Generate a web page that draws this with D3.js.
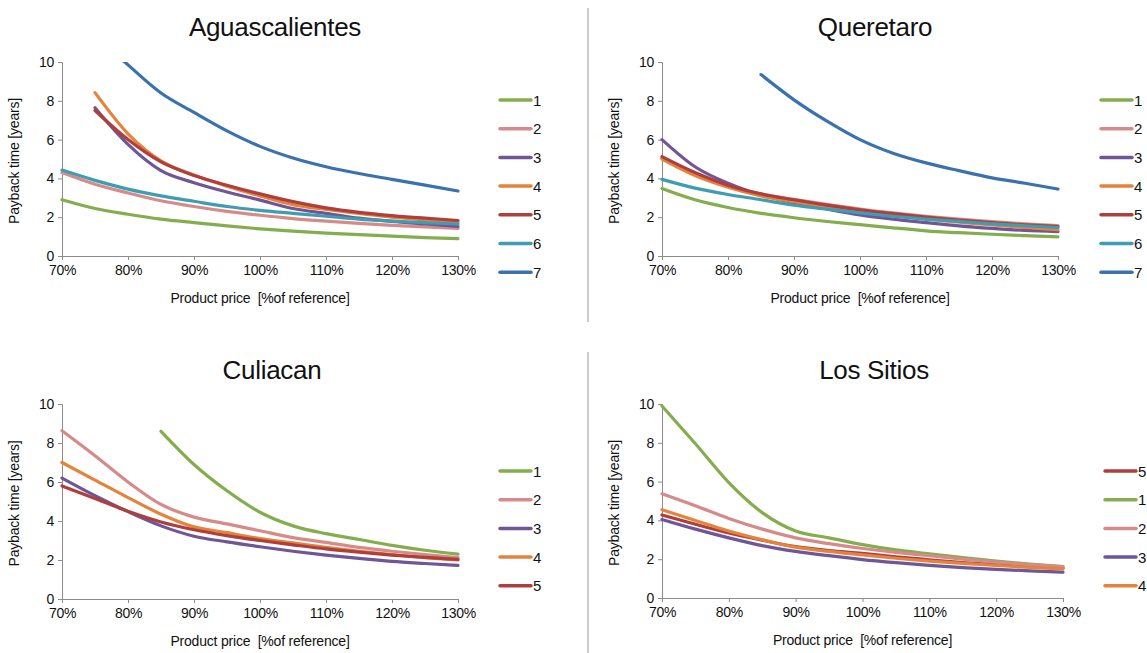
<html>
<head>
<script src="https://d3js.org/d3.v7.min.js"></script>
<style>
body { margin: 0; background: #fff; font-family: 'Liberation Sans', Arial, sans-serif; }
svg text { fill: #111; }
.title { font-size: 26px; letter-spacing: -0.3px; }
.tick text { font-size: 14px; letter-spacing: -0.3px; }
.lab { font-size: 14px; letter-spacing: -0.2px; white-space: pre; }
.leg { font-size: 15px; }
</style>
</head>
<body>
<div id="chart"></div>
<script>

// price levels [% of reference]
var prices = [70, 75, 80, 85, 90, 95, 100, 105, 110, 115, 120, 125, 130];
var yTicks = [0, 2, 4, 6, 8, 10];
var xTicks = [70, 80, 90, 100, 110, 120, 130];

// payback time [years], null = no value
var ags1 = [2.9, 2.45, 2.15, 1.9, 1.72, 1.55, 1.4, 1.28, 1.18, 1.1, 1.02, 0.95, 0.9];
var ags2 = [4.3, 3.7, 3.25, 2.85, 2.55, 2.3, 2.1, 1.93, 1.8, 1.68, 1.58, 1.5, 1.42];
var ags3 = [null, 7.64, 5.75, 4.4, 3.78, 3.3, 2.88, 2.45, 2.2, 1.95, 1.78, 1.65, 1.52];
var ags4 = [null, 8.42, 6.3, 4.9, 4.17, 3.6, 3.1, 2.65, 2.4, 2.2, 2.0, 1.87, 1.75];
var ags5 = [null, 7.5, 6.0, 4.85, 4.15, 3.65, 3.2, 2.8, 2.48, 2.25, 2.08, 1.95, 1.83];
var ags6 = [4.43, 3.9, 3.45, 3.1, 2.82, 2.55, 2.35, 2.2, 2.05, 1.9, 1.8, 1.72, 1.65];
var ags7 = [null, 11.4, 9.85, 8.4, 7.4, 6.45, 5.65, 5.05, 4.6, 4.25, 3.95, 3.65, 3.35];

var qro1 = [3.48, 2.9, 2.5, 2.2, 1.97, 1.78, 1.62, 1.45, 1.3, 1.2, 1.12, 1.05, 0.99];
var qro2 = [5.05, 4.25, 3.6, 3.2, 2.92, 2.66, 2.42, 2.22, 2.05, 1.9, 1.77, 1.66, 1.57];
var qro3 = [6.0, 4.6, 3.75, 3.15, 2.75, 2.42, 2.12, 1.9, 1.72, 1.55, 1.42, 1.32, 1.26];
var qro4 = [5.0, 4.15, 3.55, 3.1, 2.8, 2.52, 2.28, 2.08, 1.9, 1.75, 1.6, 1.47, 1.36];
var qro5 = [5.12, 4.3, 3.65, 3.2, 2.9, 2.62, 2.38, 2.18, 2.0, 1.85, 1.72, 1.6, 1.52];
var qro6 = [3.95, 3.5, 3.17, 2.9, 2.62, 2.42, 2.22, 2.05, 1.9, 1.78, 1.66, 1.56, 1.47];
var qro7 = [null, null, null, 9.35, 8.05, 6.95, 6.0, 5.3, 4.8, 4.4, 4.03, 3.75, 3.45];

var cul1 = [null, null, null, 8.6, 6.9, 5.55, 4.45, 3.75, 3.35, 3.05, 2.75, 2.5, 2.3];
var cul2 = [8.63, 7.35, 6.0, 4.85, 4.2, 3.85, 3.5, 3.15, 2.9, 2.65, 2.45, 2.28, 2.12];
var cul3 = [6.2, 5.3, 4.48, 3.75, 3.22, 2.93, 2.68, 2.45, 2.25, 2.08, 1.93, 1.82, 1.72];
var cul4 = [7.0, 6.1, 5.2, 4.35, 3.7, 3.4, 3.1, 2.88, 2.65, 2.45, 2.28, 2.12, 2.0];
var cul5 = [5.8, 5.15, 4.5, 3.95, 3.55, 3.25, 3.0, 2.78, 2.57, 2.4, 2.25, 2.13, 2.03];

var los1 = [9.9, 7.95, 5.95, 4.4, 3.45, 3.1, 2.75, 2.48, 2.28, 2.08, 1.9, 1.75, 1.62];
var los2 = [5.37, 4.75, 4.1, 3.55, 3.1, 2.8, 2.55, 2.35, 2.18, 2.0, 1.85, 1.72, 1.62];
var los3 = [4.05, 3.55, 3.1, 2.7, 2.4, 2.18, 1.98, 1.82, 1.68, 1.57, 1.48, 1.4, 1.33];
var los4 = [4.55, 4.0, 3.45, 3.0, 2.62, 2.4, 2.22, 2.05, 1.9, 1.78, 1.68, 1.58, 1.5];
var los5 = [4.28, 3.8, 3.35, 2.98, 2.65, 2.45, 2.3, 2.12, 1.97, 1.83, 1.72, 1.62, 1.55];

var colors = {
  "1": "#84ad4e", "2": "#d48b89", "3": "#6f5697", "4": "#e4833b",
  "5": "#ae3f3c", "6": "#3d9db1", "7": "#3a72ae"
};

var panels = [
  { title: "Aguascalientes", left: 62, width: 396, top: 62, height: 194, titleX: 275, titleY: 36, legX: 500, legY: 100,
    series: [["1", ags1], ["2", ags2], ["3", ags3], ["4", ags4], ["5", ags5], ["6", ags6], ["7", ags7]],
    legend: ["1", "2", "3", "4", "5", "6", "7"] },
  { title: "Queretaro", left: 662, width: 396, top: 62, height: 194, titleX: 875, titleY: 36, legX: 1101, legY: 100,
    series: [["1", qro1], ["2", qro2], ["3", qro3], ["4", qro4], ["5", qro5], ["6", qro6], ["7", qro7]],
    legend: ["1", "2", "3", "4", "5", "6", "7"] },
  { title: "Culiacan", left: 62, width: 396, top: 404, height: 195, titleX: 272, titleY: 379, legX: 500, legY: 471,
    series: [["1", cul1], ["2", cul2], ["3", cul3], ["4", cul4], ["5", cul5]],
    legend: ["1", "2", "3", "4", "5"] },
  { title: "Los Sitios", left: 662, width: 401, top: 404, height: 194, titleX: 874, titleY: 379, legX: 1105, legY: 471,
    series: [["5", los5], ["1", los1], ["2", los2], ["3", los3], ["4", los4]],
    legend: ["5", "1", "2", "3", "4"] }
];

var svg = d3.select("#chart").append("svg").attr("width", 1147).attr("height", 653);

// vertical separators
svg.append("line").attr("x1", 588).attr("x2", 588).attr("y1", 8).attr("y2", 322)
  .attr("stroke", "#999").attr("stroke-width", 1);
svg.append("line").attr("x1", 588).attr("x2", 588).attr("y1", 352).attr("y2", 653)
  .attr("stroke", "#999").attr("stroke-width", 1);

panels.forEach(function(p, i) {
  var x = d3.scaleLinear().domain([70, 130]).range([p.left, p.left + p.width]);
  var y = d3.scaleLinear().domain([0, 10]).range([p.top + p.height, p.top]);
  var g = svg.append("g");

  g.append("text").attr("class", "title").attr("x", p.titleX).attr("y", p.titleY)
    .attr("text-anchor", "middle").text(p.title);

  var clipId = "clip" + i;
  g.append("clipPath").attr("id", clipId).append("rect")
    .attr("x", p.left - 3).attr("y", p.top).attr("width", p.width + 6).attr("height", p.height + 2);

  var yAxis = g.append("g").attr("transform", "translate(" + p.left + ",0)")
    .call(d3.axisLeft(y).tickValues(yTicks).tickSize(4).tickPadding(4));
  var xAxis = g.append("g").attr("transform", "translate(0," + (p.top + p.height) + ")")
    .call(d3.axisBottom(x).tickValues(xTicks).tickSize(4).tickPadding(5).tickFormat(function(d) { return d + "%"; }));
  [xAxis, yAxis].forEach(function(a) {
    a.select(".domain").attr("stroke", "#8c8c8c");
    a.selectAll(".tick line").attr("stroke", "#8c8c8c");
    a.selectAll(".tick text").attr("fill", "#111").style("font-family", "'Liberation Sans', Arial, sans-serif");
  });

  g.append("text").attr("class", "lab")
    .attr("transform", "translate(" + (p.left - 43) + "," + (p.top + p.height / 2 + 2) + ") rotate(-90)")
    .attr("text-anchor", "middle").text("Payback time [years]");
  g.append("text").attr("class", "lab")
    .attr("x", p.left + p.width / 2).attr("y", p.top + p.height + 47)
    .attr("text-anchor", "middle").text("Product price  [%of reference]");

  var line = d3.line()
    .defined(function(d) { return d[1] != null; })
    .x(function(d) { return x(d[0]); })
    .y(function(d) { return y(d[1]); })
    .curve(d3.curveMonotoneX);

  var lines = g.append("g").attr("clip-path", "url(#" + clipId + ")");
  p.series.forEach(function(s) {
    var pts = prices.map(function(px, k) { return [px, s[1][k]]; });
    lines.append("path").datum(pts)
      .attr("d", line)
      .attr("fill", "none")
      .attr("stroke", colors[s[0]])
      .attr("stroke-width", 3.2)
      .attr("stroke-linecap", "round")
      .attr("stroke-linejoin", "round");
  });

  var leg = g.append("g");
  p.legend.forEach(function(name, k) {
    var ly = p.legY + k * 28.7;
    leg.append("line").attr("x1", p.legX).attr("x2", p.legX + 31)
      .attr("y1", ly).attr("y2", ly)
      .attr("stroke", colors[name]).attr("stroke-width", 3.5).attr("stroke-linecap", "round");
    leg.append("text").attr("class", "leg").attr("x", p.legX + 33).attr("y", ly + 5.5).text(name);
  });
});

</script>
</body>
</html>
